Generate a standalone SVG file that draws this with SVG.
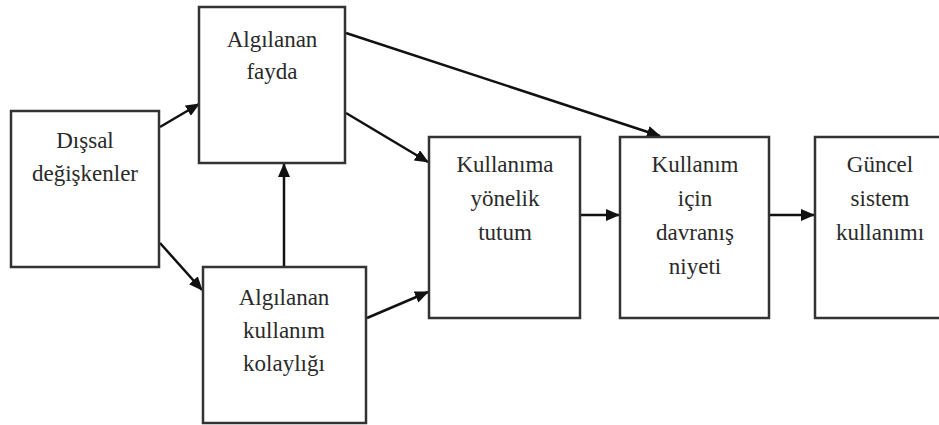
<svg xmlns="http://www.w3.org/2000/svg" width="939" height="425" viewBox="0 0 939 425">
<style>
.box{fill:#fff;stroke:#333;stroke-width:2.5}
.c{stroke:#111;stroke-width:2.5;fill:none;marker-end:url(#ah)}
</style>
<defs>
<marker id="ah" viewBox="0 0 14 12" refX="13" refY="6" markerWidth="14" markerHeight="12" markerUnits="userSpaceOnUse" orient="auto">
<path d="M0,0 L14,6 L0,12 Z" fill="#111"/>
</marker>
</defs>
<rect width="939" height="425" fill="#fff"/>
<g id="connectors">
<line class="c" x1="160" y1="127" x2="199" y2="104"/>
<line class="c" x1="160" y1="243" x2="202" y2="290"/>
<line class="c" x1="284" y1="267" x2="284" y2="164"/>
<line class="c" x1="346" y1="113" x2="428" y2="162"/>
<line class="c" x1="367" y1="318" x2="428" y2="292"/>
<line class="c" x1="346" y1="33" x2="660" y2="136"/>
<line class="c" x1="581" y1="215" x2="619" y2="215"/>
<line class="c" x1="770" y1="215" x2="814" y2="215"/>
</g>
<g id="dissal">
<rect class="box" x="11" y="111" width="148" height="156"/>
<text x="85" y="148" font-family="Liberation Serif" font-size="23" fill="#2a2a2a" text-anchor="middle">Dışsal</text>
<text x="85" y="181" font-family="Liberation Serif" font-size="23" fill="#2a2a2a" text-anchor="middle">değişkenler</text>
</g>
<g id="fayda">
<rect class="box" x="199" y="7" width="146" height="156"/>
<text x="272" y="47" font-family="Liberation Serif" font-size="23" fill="#2a2a2a" text-anchor="middle">Algılanan</text>
<text x="272" y="79" font-family="Liberation Serif" font-size="23" fill="#2a2a2a" text-anchor="middle">fayda</text>
</g>
<g id="kolaylik">
<rect class="box" x="203" y="267" width="163" height="156"/>
<text x="284" y="305" font-family="Liberation Serif" font-size="23" fill="#2a2a2a" text-anchor="middle">Algılanan</text>
<text x="284" y="338" font-family="Liberation Serif" font-size="23" fill="#2a2a2a" text-anchor="middle">kullanım</text>
<text x="284" y="371" font-family="Liberation Serif" font-size="23" fill="#2a2a2a" text-anchor="middle">kolaylığı</text>
</g>
<g id="tutum">
<rect class="box" x="429" y="137" width="151" height="181"/>
<text x="505" y="172" font-family="Liberation Serif" font-size="23" fill="#2a2a2a" text-anchor="middle">Kullanıma</text>
<text x="505" y="206" font-family="Liberation Serif" font-size="23" fill="#2a2a2a" text-anchor="middle">yönelik</text>
<text x="505" y="240" font-family="Liberation Serif" font-size="23" fill="#2a2a2a" text-anchor="middle">tutum</text>
</g>
<g id="niyet">
<rect class="box" x="620" y="137" width="149" height="181"/>
<text x="695" y="172" font-family="Liberation Serif" font-size="23" fill="#2a2a2a" text-anchor="middle">Kullanım</text>
<text x="695" y="206" font-family="Liberation Serif" font-size="23" fill="#2a2a2a" text-anchor="middle">için</text>
<text x="695" y="240" font-family="Liberation Serif" font-size="23" fill="#2a2a2a" text-anchor="middle">davranış</text>
<text x="695" y="274" font-family="Liberation Serif" font-size="23" fill="#2a2a2a" text-anchor="middle">niyeti</text>
</g>
<g id="guncel">
<rect class="box" x="815" y="137" width="140" height="181"/>
<text x="880" y="172" font-family="Liberation Serif" font-size="23" fill="#2a2a2a" text-anchor="middle">Güncel</text>
<text x="880" y="206" font-family="Liberation Serif" font-size="23" fill="#2a2a2a" text-anchor="middle">sistem</text>
<text x="880" y="240" font-family="Liberation Serif" font-size="23" fill="#2a2a2a" text-anchor="middle">kullanımı</text>
</g>
</svg>
